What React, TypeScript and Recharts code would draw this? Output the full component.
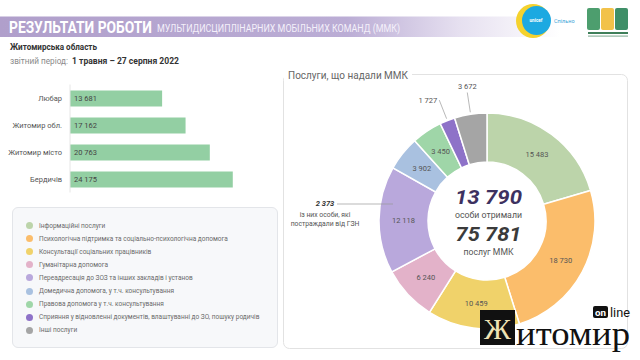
import { BarChart, Bar, XAxis, YAxis, LabelList, PieChart, Pie, Cell, Legend } from "recharts";

// охоплення по громадах
const districts = ["Любар", "Житомир обл.", "Житомир місто", "Бердичів"];
const districtTotals = [13681, 17162, 20763, 24175];

// послуги ММК
const serviceNames = [
  "Інформаційні послуги",
  "Психологічна підтримка та соціально-психологічна допомога",
  "Консультації соціальних працівників",
  "Гуманітарна допомога",
  "Переадресація до ЗОЗ та інших закладів і установ",
  "Домедична допомога, у т.ч. консультування",
  "Правова допомога у т.ч. консультування",
  "Сприяння у відновленні документів, влаштуванні до ЗО, пошуку родичів",
  "Інші послуги",
];
const serviceCounts = [15483, 18730, 10459, 6240, 12118, 3902, 3450, 1727, 3672];
const serviceColors = [
  "#bcd4aa",
  "#fbbd6b",
  "#f0d26a",
  "#e3b2c9",
  "#b9a8dc",
  "#a9c1e0",
  "#9fd6a8",
  "#8e72c8",
  "#a5a5a5",
];
// підписи цих секторів винесені назовні
const outsideLabels = ["Сприяння у відновленні документів, влаштуванні до ЗО, пошуку родичів", "Інші послуги"];

const peopleServed = 13790;
const gznAffected = 2373;

const fmt = (n: number) => String(n).replace(/\B(?=(\d{3})+(?!\d))/g, " ");

const barData = districts.map((name, i) => ({ name, total: districtTotals[i] }));
const pieData = serviceNames.map((name, i) => ({ name, value: serviceCounts[i] }));
const totalServices = serviceCounts.reduce((a, b) => a + b, 0);

const RADIAN = Math.PI / 180;

const renderSliceLabel = (props: any) => {
  const { cx, cy, midAngle, innerRadius, outerRadius, value, name } = props;
  const cos = Math.cos(-midAngle * RADIAN);
  const sin = Math.sin(-midAngle * RADIAN);
  if (outsideLabels.includes(name)) {
    const ax = cx + (outerRadius + 2) * cos;
    const ay = cy + (outerRadius + 2) * sin;
    const bx = cx + (outerRadius + 22) * cos;
    const by = cy + (outerRadius + 22) * sin;
    const side = cos < -0.3;
    return (
      <g>
        <line x1={ax} y1={ay} x2={bx} y2={by} stroke="#999" strokeWidth={0.7} />
        <text
          x={side ? bx - 2 : bx}
          y={side ? by + 2.5 : by - 4}
          textAnchor={side ? "end" : "middle"}
          fontSize={7.5}
          fill="#555"
        >
          {fmt(value)}
        </text>
      </g>
    );
  }
  const r = (innerRadius + outerRadius) / 2;
  return (
    <text
      x={cx + r * cos}
      y={cy + r * sin}
      textAnchor="middle"
      dominantBaseline="central"
      fontSize={7.5}
      fill="#555"
    >
      {fmt(value)}
    </text>
  );
};

// підпис категорії без переносу рядка
const DistrictTick = ({ x, y, payload }: any) => (
  <text x={x} y={y} dy="0.35em" textAnchor="end" fontSize={7.5} fill="#555">
    {payload.value}
  </text>
);

const ServiceLegend = ({ payload }: any) => {
  const items = [...(payload || [])].sort(
    (a: any, b: any) => serviceNames.indexOf(a.value) - serviceNames.indexOf(b.value)
  );
  return (
    <div
      style={{
        boxSizing: "border-box",
        width: 266,
        height: 141,
        background: "#f7f8fa",
        border: "1px solid #e3e5e9",
        borderRadius: 6,
        padding: "11px 0 0 13px",
      }}
    >
      {items.map((item: any) => (
        <div
          key={item.value}
          style={{ display: "flex", alignItems: "center", height: 13.1, whiteSpace: "nowrap" }}
        >
          <span
            style={{
              width: 7,
              height: 7,
              borderRadius: "50%",
              background: serviceColors[serviceNames.indexOf(item.value)],
              marginRight: 6,
              flex: "none",
            }}
          />
          <span style={{ fontSize: 6.5, color: "#6a6a6a" }}>{item.value}</span>
        </div>
      ))}
    </div>
  );
};

export default function App() {
  return (
    <div
      style={{
        position: "absolute",
        left: 0,
        top: 0,
        width: 640,
        height: 360,
        background: "#fff",
        fontFamily: "Roboto, sans-serif",
        overflow: "hidden",
      }}
    >
      <svg width={640} height={360} style={{ position: "absolute", left: 0, top: 0 }}>
        <defs>
          <linearGradient id="band" x1="0" x2="1" y1="0" y2="0">
            <stop offset="0" stopColor="#b09fcb" />
            <stop offset="0.62" stopColor="#bbadd5" />
            <stop offset="0.82" stopColor="#e6e0f0" />
            <stop offset="1" stopColor="#ffffff" />
          </linearGradient>
        </defs>
        <rect x={0} y={16.5} width={560} height={20.5} fill="url(#band)" />
        <text x={9} y={33} fontSize={17} fontWeight="bold" fill="#fff" textLength={143} lengthAdjust="spacingAndGlyphs">
          РЕЗУЛЬТАТИ РОБОТИ
        </text>
        <text x={157} y={32} fontSize={10} fill="#f4f0fa" textLength={243} lengthAdjust="spacingAndGlyphs">
          МУЛЬТИДИСЦИПЛІНАРНИХ МОБІЛЬНИХ КОМАНД (ММК)
        </text>

        {/* логотипи */}
        <circle cx={533} cy={21} r={17} fill="#f5d22e" />
        <circle cx={536.5} cy={20.5} r={14.5} fill="#1ca9e1" />
        <text x={536} y={22} fontSize={4.6} fill="#fff" textAnchor="middle" fontWeight="bold">
          unicef
        </text>
        <text x={554} y={23} fontSize={5.5} fill="#3aa4d8">
          Спільно
        </text>
        <rect x={587} y={8} width={13} height={22} rx={2} fill="#4d9e6e" />
        <rect x={601} y={8} width={13} height={22} rx={2} fill="#f2c24a" />
        <rect x={615} y={8} width={13} height={22} rx={2} fill="#3f8f68" />
        <rect x={588} y={32} width={40} height={2} fill="#3f7f5a" />
        <rect x={588} y={35.5} width={40} height={1.2} fill="#8fb59f" />

        <text x={10} y={50} fontSize={9.5} fontWeight="bold" fill="#333" textLength={87} lengthAdjust="spacingAndGlyphs">
          Житомирська область
        </text>
        <text x={10} y={64} fontSize={9} fill="#8a8a8a" textLength={58} lengthAdjust="spacingAndGlyphs">
          звітний період:
        </text>
        <text x={72} y={64} fontSize={9} fontWeight="bold" fill="#333" textLength={107} lengthAdjust="spacingAndGlyphs">
          1 травня – 27 серпня 2022
        </text>

        {/* рамка кільцевої діаграми */}
        <rect x={283.5} y={74.5} width={344} height={274} rx={6} fill="none" stroke="#e2e2e2" />
        <rect x={284} y={67} width={128} height={14} fill="#fff" />
        <text x={288} y={79} fontSize={11.5} fill="#666" textLength={120} lengthAdjust="spacingAndGlyphs">
          Послуги, що надали ММК
        </text>

        <text x={488.5} y={203.5} fontSize={20} fontWeight="bold" fontStyle="italic" fill="#3d3160" textAnchor="middle" textLength={67} lengthAdjust="spacingAndGlyphs">
          {fmt(peopleServed)}
        </text>
        <text x={488.5} y={217.5} fontSize={9.5} fill="#555" textAnchor="middle" textLength={67} lengthAdjust="spacingAndGlyphs">
          особи отримали
        </text>
        <text x={488.5} y={241} fontSize={20} fontWeight="bold" fontStyle="italic" fill="#3b3b3b" textAnchor="middle" textLength={66} lengthAdjust="spacingAndGlyphs">
          {fmt(totalServices)}
        </text>
        <text x={488.5} y={254.5} fontSize={9} fill="#555" textAnchor="middle" textLength={50} lengthAdjust="spacingAndGlyphs">
          послуг ММК
        </text>
      </svg>

      <div style={{ position: "absolute", left: 0, top: 80 }}>
        <BarChart
          width={272}
          height={115}
          data={barData}
          layout="vertical"
          margin={{ top: 4.5, right: 0, bottom: 2.5, left: 0 }}
        >
          <XAxis type="number" domain={[0, 30000]} hide />
          <YAxis
            type="category"
            dataKey="name"
            width={70}
            axisLine={{ stroke: "#e6e6e6" }}
            tickLine={false}
            tick={<DistrictTick />}
          />
          <Bar dataKey="total" fill="#93cfa3" barSize={16} isAnimationActive={false}>
            <LabelList dataKey="total" position="insideLeft" offset={4} fontSize={7.5} fill="#444" formatter={(v: any) => fmt(Number(v))} />
          </Bar>
        </BarChart>
      </div>

      <div style={{ position: "absolute", left: 0, top: 0 }}>
        <PieChart width={640} height={360} margin={{ top: 0, right: 0, bottom: 0, left: 0 }}>
          <Pie
            data={pieData}
            dataKey="value"
            nameKey="name"
            cx={487}
            cy={221}
            innerRadius={59}
            outerRadius={108}
            startAngle={90}
            endAngle={-270}
            stroke="#fff"
            strokeWidth={1.5}
            label={renderSliceLabel}
            labelLine={false}
            isAnimationActive={false}
          >
            {pieData.map((d, i) => (
              <Cell key={d.name} fill={serviceColors[i]} />
            ))}
          </Pie>
          <Legend
            content={ServiceLegend}
            itemSorter={null}
            layout="vertical"
            align="center"
            verticalAlign="middle"
            wrapperStyle={{ left: 12, top: 207, width: 266, height: 141 }}
          />
        </PieChart>
      </div>

      <svg width={640} height={360} style={{ position: "absolute", left: 0, top: 0, pointerEvents: "none" }}>
        {/* з них постраждалі від ГЗН */}
        <line x1={337} y1={204} x2={393} y2={204} stroke="#9a9a9a" strokeWidth={0.7} />
        <text x={325} y={206} fontSize={7.5} fontWeight="bold" fontStyle="italic" fill="#333" textAnchor="middle">
          {fmt(gznAffected)}
        </text>
        <text x={325} y={217} fontSize={6.8} fill="#555" textAnchor="middle">
          із них особи, які
        </text>
        <text x={325} y={226} fontSize={6.8} fill="#555" textAnchor="middle">
          постраждали від ГЗН
        </text>

        {/* водяний знак */}
        <rect x={480} y={310} width={35} height={35} fill="#111" />
        <text x={497.5} y={339} fontSize={30} fontFamily="Liberation Serif, serif" fill="#efe3b4" textAnchor="middle">
          Ж
        </text>
        <text x={516} y={345} fontSize={33} fontFamily="Liberation Serif, serif" fill="#111" textLength={114} lengthAdjust="spacingAndGlyphs">
          итомир
        </text>
        <rect x={593} y={306} width={15} height={12} rx={2} fill="#111" />
        <text x={600.5} y={315.5} fontSize={9.5} fontWeight="bold" fill="#fff" textAnchor="middle" textLength={11} lengthAdjust="spacingAndGlyphs">
          on
        </text>
        <text x={610} y={316.5} fontSize={12} fill="#111" textLength={20} lengthAdjust="spacingAndGlyphs">
          line
        </text>
      </svg>
    </div>
  );
}
